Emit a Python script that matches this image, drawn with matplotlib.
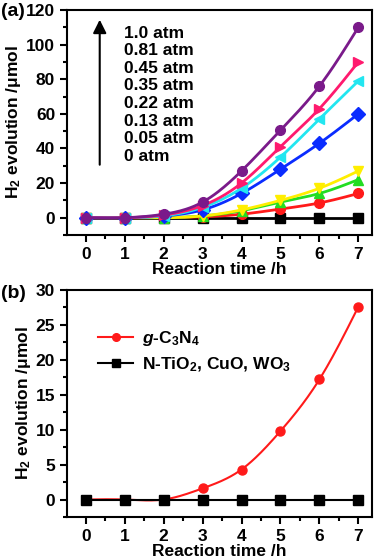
import numpy as np
import matplotlib
matplotlib.use('Agg')
import matplotlib.pyplot as plt
from matplotlib.ticker import MultipleLocator

plt.rcParams['font.family'] = 'Liberation Sans'
plt.rcParams['font.weight'] = 'bold'
plt.rcParams['mathtext.fontset'] = 'custom'
plt.rcParams['mathtext.rm'] = 'Liberation Sans:bold'
plt.rcParams['mathtext.it'] = 'Liberation Sans:bold:italic'
plt.rcParams['mathtext.bf'] = 'Liberation Sans:bold'

hours = [0, 1, 2, 3, 4, 5, 6, 7]

# panel (a): H2 evolution at different pressures
pressures = ['0 atm', '0.05 atm', '0.13 atm', '0.22 atm', '0.35 atm', '0.45 atm', '0.81 atm', '1.0 atm']
h2_0 = [0, 0, 0, 0, 0, 0, 0, 0]
h2_005 = [0, 0, 0, 0.5, 2, 5, 8.5, 14]
h2_013 = [0, 0, 0, 1, 4, 9, 14, 22]
h2_022 = [0, 0, 0, 1, 4.5, 10, 17, 27]
h2_035 = [0, 0, 1, 4.5, 14, 28, 43, 60]
h2_045 = [0, 0, 1, 6, 17, 35, 57, 79]
h2_081 = [0, 0, 1.5, 7, 20, 41, 63, 90]
h2_100 = [0, 0, 2, 9, 27, 50.5, 76, 110]
series_a = [h2_0, h2_005, h2_013, h2_022, h2_035, h2_045, h2_081, h2_100]
colors_a = ['black', '#ff1a1a', '#22dd22', '#ffee00', '#0a2cff', '#22e6f0', '#ff1a6e', '#7a1a8a']
markers_a = ['s', 'o', '^', 'v', 'D', '<', '>', 'o']

# panel (b): photocatalysts
gcn = [0, 0, 0, 1.6, 4.3, 9.8, 17.2, 27.6]
others = [0, 0, 0, 0, 0, 0, 0, 0]


def spline(x, y, n=200):
    # natural cubic spline, only for drawing the smooth connecting curve
    x = np.asarray(x, float); y = np.asarray(y, float)
    k = len(x)
    h = np.diff(x)
    A = np.zeros((k, k)); r = np.zeros(k)
    A[0, 0] = A[-1, -1] = 1
    for i in range(1, k - 1):
        A[i, i - 1] = h[i - 1]; A[i, i] = 2 * (h[i - 1] + h[i]); A[i, i + 1] = h[i]
        r[i] = 3 * ((y[i + 1] - y[i]) / h[i] - (y[i] - y[i - 1]) / h[i - 1])
    c = np.linalg.solve(A, r)
    xs = np.linspace(x[0], x[-1], n)
    idx = np.clip(np.searchsorted(x, xs) - 1, 0, k - 2)
    dx = xs - x[idx]
    b = (y[1:] - y[:-1]) / h - h * (2 * c[:-1] + c[1:]) / 3
    d = (c[1:] - c[:-1]) / (3 * h)
    ys = y[idx] + b[idx] * dx + c[idx] * dx ** 2 + d[idx] * dx ** 3
    return xs, ys


fig = plt.figure(figsize=(3.81, 5.58), dpi=100)
ax1 = fig.add_axes([67 / 381, 1 - 235 / 558, 305 / 381, 225 / 558])
ax2 = fig.add_axes([67 / 381, 1 - 517 / 558, 305 / 381, 227 / 558])


def style(ax):
    for s in ax.spines.values():
        s.set_linewidth(1.5)
    ax.tick_params(which='both', direction='out', top=False, right=False, width=1.5, labelsize=12.5)
    ax.tick_params(which='major', length=5)
    ax.tick_params(which='minor', length=3)
    ax.set_xlim(-0.48, 7.35)
    ax.xaxis.set_major_locator(MultipleLocator(1))
    ax.xaxis.set_minor_locator(MultipleLocator(0.5))
    ax.set_xlabel('Reaction time /h', fontsize=12.5, fontweight='bold', labelpad=0)
    ax.set_ylabel(r'H$_2$ evolution /μmol', fontsize=12.5, fontweight='bold', labelpad=2)


for y, c, m in zip(series_a, colors_a, markers_a):
    xs, ys = spline(hours, y)
    ax1.plot(xs, ys, color=c, lw=2)
    ax1.plot(hours, y, ls='none', marker=m, color=c, ms=7)
style(ax1)
ax1.set_ylim(-10, 120)
ax1.yaxis.set_major_locator(MultipleLocator(20))
ax1.yaxis.set_minor_locator(MultipleLocator(10))
ax1.annotate('', xy=(0.36, 116), xytext=(0.36, 29),
             arrowprops=dict(arrowstyle='-|>', color='black', lw=1.5, mutation_scale=20))
ax1.text(0.98, 111, '\n'.join(pressures[::-1]), fontsize=12.5, fontweight='bold',
         va='top', ha='left', linespacing=1.22)
fig.text(0.002, 1 - 12 / 558, '(a)', fontsize=14, fontweight='bold', va='center')

xs, ys = spline(hours, gcn)
ax2.plot(xs, ys, color='#ff1a1a', lw=1.5)
ax2.plot(hours, gcn, ls='none', marker='o', color='#ff1a1a', ms=6.5)
ax2.plot([], [], color='#ff1a1a', lw=1.5, marker='o', ms=5.5, label=r'$g$-C$_3$N$_4$')
ax2.plot(hours, others, color='black', lw=1.5, marker='s', ms=6.5)
ax2.plot([], [], color='black', lw=1.5, marker='s', ms=5.5, label=r'N-TiO$_2$, CuO, WO$_3$')
style(ax2)
ax2.set_ylim(-2.5, 30)
ax2.yaxis.set_major_locator(MultipleLocator(5))
ax2.yaxis.set_minor_locator(MultipleLocator(2.5))
ax2.legend(loc='upper left', bbox_to_anchor=(0.08, 0.86), frameon=False, fontsize=12.5,
           handlelength=2.0, handletextpad=0.5, labelspacing=0.45, borderaxespad=0)
fig.text(0.002, 1 - 293 / 558, '(b)', fontsize=14, fontweight='bold', va='center')

fig.savefig('out.png', dpi=100)
